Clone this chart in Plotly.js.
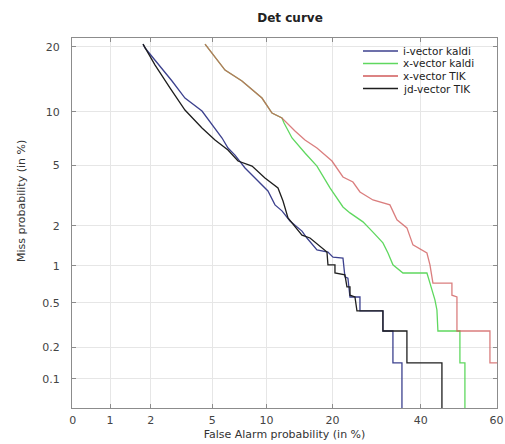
<!DOCTYPE html>
<html>
<head>
<meta charset="utf-8">
<script src="https://cdn.plot.ly/plotly-3.0.1.min.js"></script>
<style>html,body{margin:0;padding:0;background:#fff;}#chart{width:505px;height:444px;}</style>
</head>
<body>
<div id="chart"></div>
<script>
// ---- data (percent) ----
const seriesNames = ['i-vector kaldi', 'x-vector kaldi', 'x-vector TIK', 'jd-vector TIK'];

const ivecKaldiFa   = [1.76, 1.82, 2.79, 3.39, 4.34, 4.99, 5.72, 6.19, 6.78, 7.70, 8.71, 10.16, 11.02, 11.92, 13.02, 14.79, 15.57, 17.22, 19.16, 20.09, 22.01, 22.40, 23.00, 23.42, 25.51, 25.51, 30.67, 30.67, 33.05, 33.05, 35.26, 35.26];
const ivecKaldiMiss = [20.5, 19.76, 14.15, 11.72, 10.08, 8.50, 7.22, 6.33, 5.76, 4.82, 4.18, 3.45, 2.79, 2.54, 2.16, 1.83, 1.63, 1.33, 1.28, 1.17, 1.15, 0.82, 0.80, 0.56, 0.56, 0.426, 0.426, 0.283, 0.283, 0.143, 0.143, 0.01];

const xvecKaldiFa   = [4.53, 5.95, 7.41, 9.47, 10.65, 11.92, 12.2, 13.31, 15.26, 17.22, 19.53, 22.01, 23.42, 26.16, 28.37, 30.67, 31.86, 33.05, 35.51, 41.62, 42.41, 43.19, 43.71, 44.24, 44.50, 50.34, 50.34, 51.67, 51.67];
const xvecKaldiMiss = [20.5, 15.88, 14.15, 11.72, 9.84, 9.27, 8.72, 7.22, 5.92, 4.95, 3.61, 2.70, 2.46, 2.13, 1.80, 1.50, 1.26, 1.02, 0.88, 0.88, 0.73, 0.605, 0.53, 0.434, 0.283, 0.283, 0.143, 0.143, 0.01];

const xvecTikFa   = [4.53, 5.95, 7.41, 9.47, 10.65, 11.92, 13.74, 15.26, 17.22, 19.90, 22.01, 24.03, 25.51, 28.37, 32.33, 34.03, 36.50, 38.02, 41.62, 42.41, 43.19, 48.21, 48.21, 49.55, 49.55, 58.27, 58.27, 65.0];
const xvecTikMiss = [20.5, 15.88, 14.15, 11.72, 9.84, 9.27, 7.89, 7.03, 6.33, 5.31, 4.24, 3.94, 3.40, 3.01, 2.79, 2.20, 1.93, 1.45, 1.26, 1.02, 0.73, 0.73, 0.58, 0.56, 0.283, 0.283, 0.143, 0.143];

const jdvecTikFa   = [1.76, 2.14, 2.71, 3.39, 4.34, 5.20, 6.19, 7.05, 8.40, 9.81, 11.40, 12.06, 12.74, 13.74, 14.79, 16.06, 17.40, 18.98, 19.16, 20.46, 20.46, 22.40, 22.80, 23.42, 23.42, 24.45, 24.87, 30.67, 30.67, 36.50, 36.50, 45.56, 45.56];
const jdvecTikMiss = [20.5, 16.71, 13.11, 10.20, 8.20, 7.03, 6.17, 5.31, 4.95, 4.18, 3.61, 2.96, 2.27, 1.99, 1.71, 1.63, 1.45, 1.28, 1.02, 1.02, 0.88, 0.85, 0.68, 0.68, 0.58, 0.56, 0.426, 0.426, 0.283, 0.283, 0.143, 0.143, 0.01];

const xTickVals = [0.5, 1, 2, 5, 10, 20, 40, 60];
const xTickText = ['0', '1', '2', '5', '10', '20', '40', '60'];
const yTickVals = [0.1, 0.2, 0.5, 1, 2, 5, 10, 20];
const yTickText = ['0.1', '0.2', '0.5', '1', '2', '5', '10', '20'];
const xRangePct = [0.494, 60.1];
const yRangePct = [0.0504, 21.7];

const colors = ['#3c418e', '#5fd85f', '#d05a5a', '#1e1e1e'];

// inverse standard normal CDF (Acklam)
function probit(p) {
  const a=[-3.969683028665376e+01,2.209460984245205e+02,-2.759285104469687e+02,1.383577518672690e+02,-3.066479806614716e+01,2.506628277459239e+00];
  const b=[-5.447609879822406e+01,1.615858368580409e+02,-1.556989798598866e+02,6.680131188771972e+01,-1.328068155288572e+01];
  const c=[-7.784894002430293e-03,-3.223964580411365e-01,-2.400758277161838e+00,-2.549732539343734e+00,4.374664141464968e+00,2.938163982698783e+00];
  const d=[7.784695709041462e-03,3.224671290700398e-01,2.445134137142996e+00,3.754408661907416e+00];
  const plow=0.02425, phigh=1-plow;
  let q, r;
  if (p < plow) { q=Math.sqrt(-2*Math.log(p)); return (((((c[0]*q+c[1])*q+c[2])*q+c[3])*q+c[4])*q+c[5])/((((d[0]*q+d[1])*q+d[2])*q+d[3])*q+1); }
  if (p <= phigh) { q=p-0.5; r=q*q; return (((((a[0]*r+a[1])*r+a[2])*r+a[3])*r+a[4])*r+a[5])*q/(((((b[0]*r+b[1])*r+b[2])*r+b[3])*r+b[4])*r+1); }
  q=Math.sqrt(-2*Math.log(1-p)); return -(((((c[0]*q+c[1])*q+c[2])*q+c[3])*q+c[4])*q+c[5])/((((d[0]*q+d[1])*q+d[2])*q+d[3])*q+1);
}
const pz = arr => arr.map(v => probit(v / 100));

const series = [
  [ivecKaldiFa, ivecKaldiMiss],
  [xvecKaldiFa, xvecKaldiMiss],
  [xvecTikFa, xvecTikMiss],
  [jdvecTikFa, jdvecTikMiss]
];

const traces = series.map((s, i) => ({
  type: 'scatter', mode: 'lines', name: seriesNames[i],
  x: pz(s[0]), y: pz(s[1]),
  line: {color: colors[i], width: 1.3},
  opacity: i === 2 ? 0.78 : 1,
  showlegend: false
}));

const FONT = 'DejaVu Sans, Arial, sans-serif';
const L = 72, R = 8, T = 38, B = 36, W = 505, H = 444;
const pw = W - L - R, ph = H - T - B;
const px2x = px => (px - L) / pw;
const py2y = py => (H - B - py) / ph;

// custom legend (compact, as in the reference)
const legRows = [51, 63.5, 76, 88.5];
const shapes = [{
  type: 'rect', xref: 'paper', yref: 'paper', layer: 'between',
  x0: px2x(362), x1: px2x(496), y0: py2y(98), y1: py2y(39),
  fillcolor: '#ffffff', line: {width: 0}
}];
const annotations = [];
seriesNames.forEach((n, i) => {
  shapes.push({type: 'line', xref: 'paper', yref: 'paper',
    x0: px2x(363), x1: px2x(398), y0: py2y(legRows[i]), y1: py2y(legRows[i]),
    line: {color: colors[i], width: 1.3}});
  annotations.push({xref: 'paper', yref: 'paper', x: px2x(401), y: py2y(legRows[i]),
    xanchor: 'left', yanchor: 'middle', showarrow: false, text: n,
    font: {family: FONT, size: 10.5, color: '#222'}});
});
annotations.push({xref: 'paper', yref: 'paper', x: px2x(21), y: py2y(201),
  xanchor: 'center', yanchor: 'middle', showarrow: false, textangle: -90,
  text: 'Miss probability (in %)', font: {family: FONT, size: 11, color: '#333'}});

const axisCommon = {
  showline: true, linecolor: '#8c8c8c', linewidth: 1, mirror: 'ticks',
  ticks: 'inside', ticklen: 4, tickcolor: '#8c8c8c',
  showgrid: true, gridcolor: '#e6e6e6', gridwidth: 1, zeroline: false,
  tickfont: {family: FONT, size: 11, color: '#444'}
};

const layout = {
  width: W, height: H,
  margin: {l: L, r: R, t: T, b: B, pad: 0},
  paper_bgcolor: '#fff', plot_bgcolor: '#fff',
  showlegend: false,
  title: {text: 'Det curve', font: {family: FONT, size: 12, color: '#222', weight: 'bold'},
    xref: 'paper', x: 0.513, xanchor: 'center', yref: 'container', y: 1 - 18 / H, yanchor: 'middle'},
  xaxis: Object.assign({}, axisCommon, {
    range: pz(xRangePct), tickmode: 'array', tickvals: pz(xTickVals), ticktext: xTickText,
    ticklabelstandoff: 2,
    title: {text: 'False Alarm probability (in %)', font: {family: FONT, size: 11, color: '#333'}, standoff: 4}
  }),
  yaxis: Object.assign({}, axisCommon, {
    range: pz(yRangePct), tickmode: 'array', tickvals: pz(yTickVals), ticktext: yTickText,
    ticklabelstandoff: 9
  }),
  shapes: shapes,
  annotations: annotations
};

Plotly.newPlot('chart', traces, layout, {displayModeBar: false, staticPlot: true});
</script>
</body>
</html>
